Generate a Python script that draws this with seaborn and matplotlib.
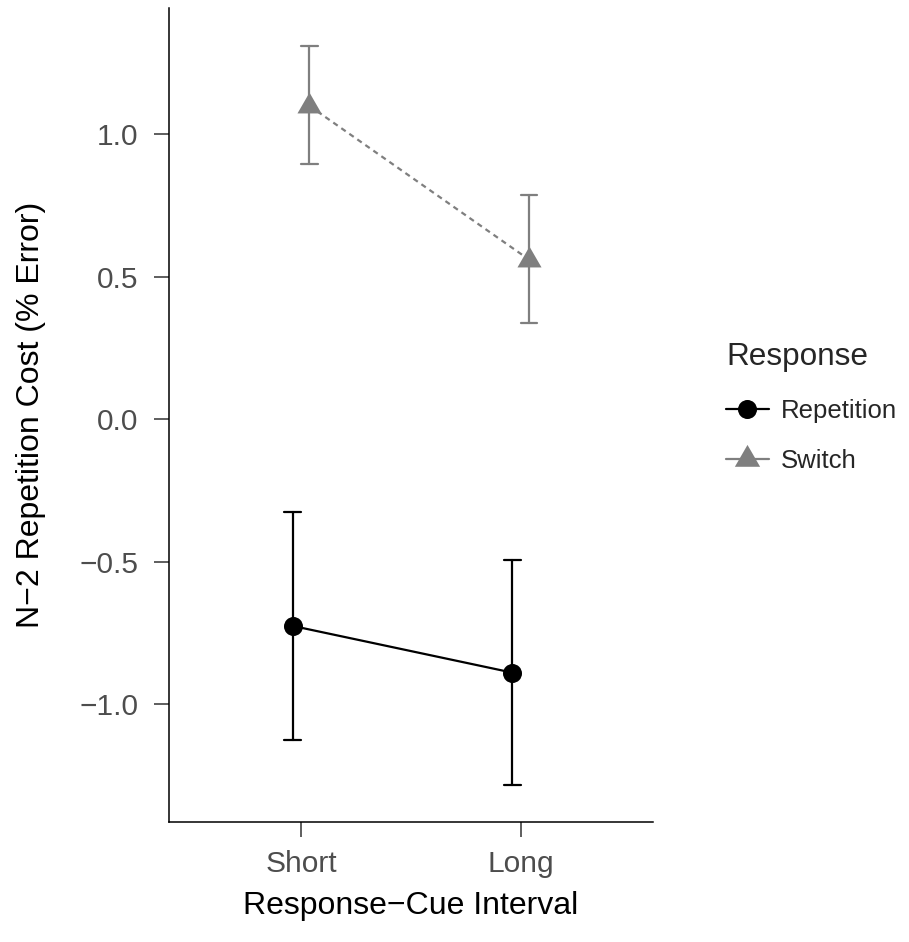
import numpy as np
import pandas as pd
import matplotlib
matplotlib.use("Agg")
import matplotlib.pyplot as plt
import seaborn as sns
from matplotlib.lines import Line2D

# ---- data ----
intervals = ["Short", "Long"]
responses = ["Repetition", "Switch"]
rep_mean = [-0.725, -0.889]
rep_low = [-1.125, -1.284]
rep_high = [-0.326, -0.494]
sw_mean = [1.10, 0.56]
sw_low = [0.896, 0.339]
sw_high = [1.311, 0.786]
colors = ["#000000", "#7f7f7f"]
y_ticks = [-1.0, -0.5, 0.0, 0.5, 1.0]

# long table: low / mean / high per cell -> median = mean, 100% interval = [low, high]
rows = []
for resp, lo, mu, hi in [("Repetition", rep_low, rep_mean, rep_high),
                         ("Switch", sw_low, sw_mean, sw_high)]:
    for i, iv in enumerate(intervals):
        for v in (lo[i], mu[i], hi[i]):
            rows.append({"Interval": iv, "Response": resp, "Cost": v})
df = pd.DataFrame(rows)

sns.set_theme(style="ticks")
plt.rcParams["font.family"] = ["Liberation Sans", "DejaVu Sans"]

W, H = 909, 942
fig = plt.figure(figsize=(W / 100, H / 100), dpi=100)
ax = fig.add_axes([169 / W, 1 - 822 / H, (652.7 - 169) / W, (822 - 8) / H])

tri = [(0, 1), (-0.866, -0.5), (0.866, -0.5)]
sns.pointplot(data=df, x="Interval", y="Cost", hue="Response",
              order=intervals, hue_order=responses, palette=colors,
              estimator="median", errorbar=("pi", 100), dodge=0.076,
              markers=["o", tri], linestyles=["-", (0, (2.4, 2))],
              capsize=0.076, markersize=13.7, markeredgewidth=0,
              linewidth=1.6, err_kws={"linewidth": 1.6},
              legend=False, ax=ax)

for ln in ax.lines:
    if not isinstance(ln.get_marker(), str):
        ln.set_markersize(20)

ax.set_xlim(-0.6, 1.6)
ax.set_ylim(-1.413, 1.443)
ax.set_yticks(y_ticks)
ax.set_yticklabels([f"{t:.1f}".replace("-", "\u2212") for t in y_ticks])

for s in ["top", "right"]:
    ax.spines[s].set_visible(False)
for s in ["left", "bottom"]:
    ax.spines[s].set_color("black")
    ax.spines[s].set_linewidth(1.1)

ax.tick_params(axis="both", length=10.8, width=1.1, color="#333333",
               labelcolor="#4d4d4d", labelsize=21.5)
ax.tick_params(axis="x", pad=9)
ax.tick_params(axis="y", pad=11)

ax.set_xlabel("Response\u2212Cue Interval", fontsize=23, color="black", labelpad=10)
ax.set_ylabel("N\u22122 Repetition Cost (% Error)", fontsize=23, color="black", labelpad=24)

handles = [
    Line2D([], [], color=colors[0], marker="o", markersize=13.7, markeredgewidth=0,
           linewidth=1.6, linestyle="-"),
    Line2D([], [], color=colors[1], marker=tri, markersize=21, markeredgewidth=0,
           linewidth=1.6, linestyle="-"),
]
leg = fig.legend(handles, responses, title="Response", loc="upper left",
                 bbox_to_anchor=(726 / W, 1 - 342 / H), bbox_transform=fig.transFigure,
                 frameon=False, fontsize=18.5, title_fontsize=22.7,
                 handlelength=1.66, handletextpad=0.48, labelspacing=1.04,
                 borderpad=0, borderaxespad=0, alignment="left")

fig.savefig("out.png", dpi=100)
